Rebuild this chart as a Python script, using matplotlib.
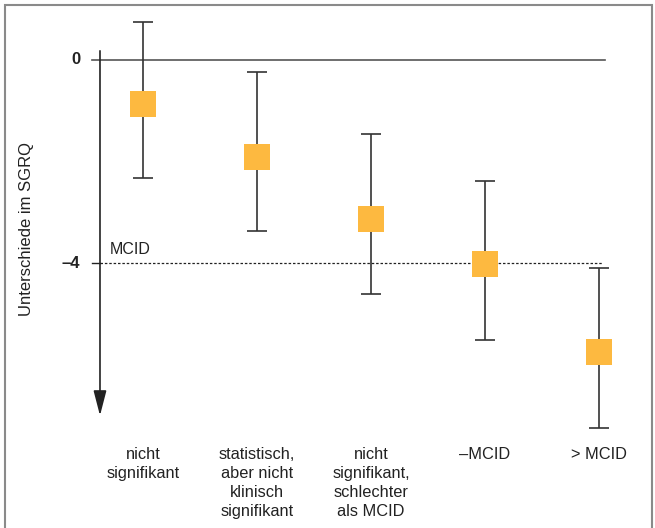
import matplotlib.pyplot as plt
from matplotlib.patches import Rectangle

plt.rcParams['font.family'] = ['Liberation Sans', 'DejaVu Sans']

# data
categories = ['nicht\nsignifikant',
              'statistisch,\naber nicht\nklinisch\nsignifikant',
              'nicht\nsignifikant,\nschlechter\nals MCID',
              '\u2013MCID',
              '> MCID']
means = [-0.86, -1.91, -3.13, -4.02, -5.75]
upper = [0.74, -0.24, -1.46, -2.38, -4.10]
lower = [-2.33, -3.37, -4.61, -5.51, -7.24]
mcid = -4
ytick_values = [0, -4]
ytick_labels = ['0', '\u20134']

fig = plt.figure(figsize=(6.55, 5.28), dpi=100)
ax = fig.add_axes([0, 0, 1, 1])
ax.set_xlim(-1.254, 4.491)
ax.set_ylim(-9.213, 1.181)
ax.axis('off')

# frame round the figure
fig.patches.append(Rectangle((5 / 655, -0.05), 647 / 655, 1.05 - 5 / 528,
                             transform=fig.transFigure, fill=False,
                             edgecolor='#8a8a8a', linewidth=1.5))

# zero line and MCID line
ax.plot([-0.447, 4.053], [0, 0], color='#555555', linewidth=1.2, zorder=1)
ax.plot([-0.447, -0.377], [mcid, mcid], color='#222222', linewidth=1.0, zorder=1)
ax.plot([-0.377, 4.035], [mcid, mcid], color='#222222', linewidth=0.9,
        linestyle=(0, (2, 1.5)), zorder=1)
ax.text(-0.29, mcid + 0.12, 'MCID', fontsize=11.5, color='#222222',
        ha='left', va='bottom')

# y axis with arrow
ax.annotate('', xy=(-0.377, -7.0), xytext=(-0.377, 0.18),
            arrowprops=dict(arrowstyle='-|>,head_width=0.22,head_length=0.85',
                            color='#222222', lw=1.2,
                            mutation_scale=18, shrinkA=0, shrinkB=0))
for v, lab in zip(ytick_values, ytick_labels):
    ax.text(-0.55, v, lab, fontsize=12, fontweight='bold', ha='right',
            va='center', color='#222222')
ax.text(-1.02, -3.33, 'Unterschiede im SGRQ', rotation=90, fontsize=12,
        ha='center', va='center', color='#222222')

# error bars and squares
xs = list(range(len(means)))
yerr = [[m - lo for m, lo in zip(means, lower)],
        [up - m for m, up in zip(means, upper)]]
ax.errorbar(xs, means, yerr=yerr, fmt='none', ecolor='#333333',
            elinewidth=1.2, capsize=7, capthick=1.2, zorder=2)
ax.plot(xs, means, linestyle='none', marker='s', markersize=18.5,
        color='#FDB940', markeredgewidth=0, zorder=3)

for x, lab in zip(xs, categories):
    ax.text(x, -7.62, lab, fontsize=11.8, ha='center', va='top',
            linespacing=1.33, color='#222222')

fig.savefig('out.png', dpi=100)
